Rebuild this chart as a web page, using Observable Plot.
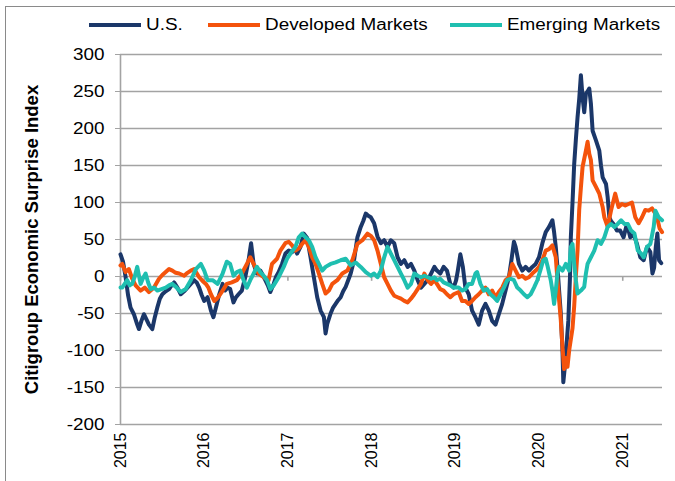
<!DOCTYPE html>
<html>
<head>
<meta charset="utf-8">
<script src="https://cdn.jsdelivr.net/npm/d3@7"></script>
<script src="https://cdn.jsdelivr.net/npm/@observablehq/plot@0.6"></script>
<style>
  body { margin: 0; background: #fff; font-family: "Liberation Sans", Arial, sans-serif; }
  #wrap { position: relative; width: 675px; height: 481px; overflow: hidden; background: #fff; }
  #frame { position: absolute; left: 5px; top: 6px; width: 720px; height: 520px; border: 1.5px solid #8a8a8a; }
  #legend { position: absolute; left: 0; top: 0; width: 675px; height: 40px; }
  .item { position: absolute; top: 14px; height: 22px; display: flex; align-items: center; font-size: 16px; color: #000; white-space: nowrap; }
  .sw { width: 52px; height: 4px; margin-right: 5px; }
  .lbl { display: inline-block; transform: scaleX(1.18); transform-origin: left center; }
  #chart { position: absolute; left: 0; top: 40px; }
</style>
</head>
<body>
<div id="wrap">
  <div id="frame"></div>
  <div id="legend"></div>
  <div id="chart"></div>
</div>
<script>
// ---- data (decimal year, index value) ----
const seriesNames = ["U.S.", "Developed Markets", "Emerging Markets"];
const seriesColors = ["#1b3769", "#f4530c", "#1fbfb0"];
const yTicks = [-200, -150, -100, -50, 0, 50, 100, 150, 200, 250, 300];
const yearTicks = [2015, 2016, 2017, 2018, 2019, 2020, 2021];
const yTitle = "Citigroup Economic Surprise Index";

const us = [
[2015.00,30],[2015.03,20],[2015.06,0],[2015.09,-25],[2015.12,-42],[2015.16,-51],[2015.20,-65],[2015.22,-71],
[2015.25,-60],[2015.28,-51],[2015.31,-58],[2015.34,-65],[2015.38,-71],[2015.41,-55],[2015.44,-42],[2015.47,-30],
[2015.50,-24],[2015.54,-20],[2015.58,-17],[2015.61,-12],[2015.64,-8],[2015.68,-15],[2015.72,-24],[2015.76,-20],
[2015.80,-15],[2015.84,-10],[2015.88,-5],[2015.91,-8],[2015.94,-15],[2015.97,-25],[2016.00,-33],[2016.04,-28],
[2016.08,-46],[2016.11,-55],[2016.14,-42],[2016.18,-24],[2016.22,-10],[2016.25,-19],[2016.28,-15],[2016.31,-17],
[2016.35,-35],[2016.38,-28],[2016.41,-24],[2016.45,-19],[2016.49,-1],[2016.53,22],[2016.56,45],[2016.59,17],
[2016.63,4],[2016.67,8],[2016.70,2],[2016.73,-5],[2016.76,-12],[2016.79,-21],[2016.83,-10],[2016.86,0],
[2016.89,6],[2016.93,17],[2016.97,31],[2017.01,35],[2017.05,33],[2017.08,38],[2017.11,31],[2017.15,40],
[2017.19,58],[2017.23,52],[2017.27,26],[2017.31,-1],[2017.35,-28],[2017.39,-46],[2017.43,-55],[2017.45,-77],
[2017.47,-64],[2017.51,-50],[2017.54,-42],[2017.57,-37],[2017.60,-32],[2017.63,-28],[2017.66,-20],[2017.69,-14],
[2017.72,-5],[2017.75,4],[2017.79,22],[2017.83,53],[2017.87,67],[2017.90,75],[2017.93,85],[2017.96,82],
[2017.99,80],[2018.03,72],[2018.07,54],[2018.11,45],[2018.15,49],[2018.19,40],[2018.23,49],[2018.27,45],
[2018.31,26],[2018.35,17],[2018.39,22],[2018.43,13],[2018.47,17],[2018.51,8],[2018.55,-5],[2018.59,-15],
[2018.63,-10],[2018.67,-5],[2018.71,4],[2018.75,13],[2018.78,8],[2018.82,4],[2018.86,13],[2018.90,8],
[2018.94,-10],[2018.98,-15],[2019.01,-5],[2019.03,8],[2019.06,30],[2019.09,13],[2019.12,-15],[2019.16,-24],
[2019.20,-46],[2019.24,-55],[2019.28,-65],[2019.32,-46],[2019.36,-37],[2019.40,-46],[2019.44,-60],[2019.48,-65],
[2019.52,-51],[2019.56,-37],[2019.60,-19],[2019.64,-1],[2019.67,22],[2019.70,47],[2019.72,40],[2019.76,17],
[2019.80,8],[2019.84,13],[2019.88,8],[2019.92,13],[2019.96,17],[2020.00,26],[2020.04,45],[2020.08,60],
[2020.12,67],[2020.16,76],[2020.18,60],[2020.20,40],[2020.22,13],[2020.24,-19],[2020.26,-50],[2020.28,-100],
[2020.29,-143],[2020.31,-120],[2020.33,-90],[2020.35,-60],[2020.37,0],[2020.38,53],[2020.40,100],[2020.42,152],
[2020.44,185],[2020.46,215],[2020.48,240],[2020.50,272],[2020.52,242],[2020.54,222],[2020.56,247],[2020.58,250],
[2020.60,254],[2020.62,233],[2020.64,197],[2020.68,184],[2020.72,170],[2020.74,150],[2020.76,134],[2020.80,125],
[2020.82,107],[2020.84,80],[2020.86,75],[2020.89,71],[2020.93,62],[2020.97,62],[2021.01,53],[2021.05,71],
[2021.09,53],[2021.13,57],[2021.17,44],[2021.21,26],[2021.25,22],[2021.29,40],[2021.33,33],[2021.355,4],
[2021.375,12],[2021.395,40],[2021.414,58],[2021.434,22],[2021.46,18]
];

const dm = [
[2015.00,15],[2015.02,17],[2015.06,6],[2015.10,10],[2015.14,-3],[2015.18,-12],[2015.24,-19],[2015.29,-15],
[2015.34,-21],[2015.40,-15],[2015.46,-3],[2015.50,2],[2015.54,6],[2015.58,10],[2015.62,8],[2015.66,5],
[2015.70,4],[2015.76,1],[2015.80,5],[2015.84,8],[2015.88,10],[2015.94,-1],[2015.98,-6],[2016.02,-10],
[2016.05,-15],[2016.08,-24],[2016.12,-33],[2016.15,-30],[2016.18,-26],[2016.22,-19],[2016.27,-10],[2016.33,-8],
[2016.39,-5],[2016.45,4],[2016.51,17],[2016.55,26],[2016.59,17],[2016.65,4],[2016.71,-1],[2016.77,-5],
[2016.81,17],[2016.87,24],[2016.91,35],[2016.97,45],[2017.01,47],[2017.05,42],[2017.09,35],[2017.13,38],
[2017.17,44],[2017.21,49],[2017.25,40],[2017.29,26],[2017.33,17],[2017.37,4],[2017.41,-10],[2017.45,-23],
[2017.49,-19],[2017.53,-10],[2017.59,-5],[2017.65,4],[2017.71,8],[2017.77,22],[2017.83,44],[2017.89,49],
[2017.95,58],[2017.99,55],[2018.03,49],[2018.07,35],[2018.11,17],[2018.15,-1],[2018.19,-10],[2018.23,-19],
[2018.27,-26],[2018.31,-28],[2018.35,-30],[2018.39,-33],[2018.43,-35],[2018.47,-30],[2018.51,-24],[2018.55,-17],
[2018.59,-10],[2018.63,4],[2018.67,-5],[2018.71,-10],[2018.75,-5],[2018.78,-10],[2018.82,-17],[2018.86,-19],
[2018.90,-24],[2018.94,-28],[2018.98,-24],[2019.04,-21],[2019.08,-33],[2019.12,-33],[2019.16,-37],[2019.20,-33],
[2019.24,-28],[2019.28,-24],[2019.32,-19],[2019.36,-15],[2019.40,-24],[2019.44,-19],[2019.48,-28],[2019.52,-21],
[2019.56,-15],[2019.60,-5],[2019.64,-1],[2019.68,17],[2019.72,8],[2019.76,-1],[2019.80,1],[2019.84,-3],
[2019.88,-1],[2019.92,4],[2019.96,8],[2020.00,13],[2020.04,22],[2020.08,35],[2020.12,37],[2020.16,42],
[2020.20,26],[2020.22,-5],[2020.24,-32],[2020.26,-59],[2020.28,-95],[2020.30,-125],[2020.32,-110],[2020.34,-122],
[2020.36,-100],[2020.40,-70],[2020.42,-40],[2020.44,0],[2020.46,35],[2020.48,90],[2020.50,120],[2020.52,148],
[2020.56,170],[2020.58,182],[2020.60,166],[2020.62,157],[2020.64,130],[2020.68,121],[2020.72,112],[2020.76,94],
[2020.78,80],[2020.82,67],[2020.86,89],[2020.91,112],[2020.95,94],[2020.99,98],[2021.03,96],[2021.07,98],
[2021.11,100],[2021.15,80],[2021.19,72],[2021.23,80],[2021.27,90],[2021.31,89],[2021.35,92],[2021.39,85],
[2021.42,75],[2021.44,65],[2021.47,60]
];

const em = [
[2015.00,-15],[2015.02,-15],[2015.05,-10],[2015.08,-5],[2015.11,-12],[2015.14,-10],[2015.17,0],[2015.20,13],
[2015.24,-10],[2015.27,-2],[2015.30,4],[2015.33,-8],[2015.36,-17],[2015.40,-15],[2015.44,-19],[2015.49,-17],
[2015.54,-15],[2015.58,-12],[2015.62,-10],[2015.67,-15],[2015.72,-21],[2015.78,-17],[2015.84,-5],[2015.90,10],
[2015.96,17],[2016.00,8],[2016.04,-5],[2016.10,-5],[2016.16,-10],[2016.22,4],[2016.27,20],[2016.31,17],
[2016.35,1],[2016.39,6],[2016.43,8],[2016.47,-5],[2016.51,-15],[2016.55,-5],[2016.59,4],[2016.63,13],
[2016.67,6],[2016.71,1],[2016.75,-5],[2016.79,-17],[2016.83,-12],[2016.89,-1],[2016.95,13],[2016.99,24],
[2017.03,31],[2017.09,40],[2017.13,53],[2017.17,58],[2017.21,53],[2017.25,49],[2017.29,40],[2017.33,26],
[2017.37,17],[2017.41,8],[2017.45,13],[2017.51,17],[2017.57,19],[2017.63,22],[2017.69,24],[2017.75,15],
[2017.81,19],[2017.87,13],[2017.93,6],[2017.99,1],[2018.03,4],[2018.07,-1],[2018.11,8],[2018.15,26],
[2018.19,40],[2018.23,31],[2018.27,22],[2018.31,13],[2018.35,4],[2018.39,-5],[2018.43,-15],[2018.47,-10],
[2018.51,4],[2018.55,1],[2018.59,-1],[2018.63,1],[2018.67,-1],[2018.71,-3],[2018.75,-1],[2018.78,-5],
[2018.82,-3],[2018.86,-8],[2018.90,-10],[2018.94,-12],[2018.98,-15],[2019.04,-15],[2019.08,-19],[2019.12,-17],
[2019.16,-10],[2019.20,-10],[2019.24,4],[2019.26,6],[2019.30,-10],[2019.34,-19],[2019.38,-17],[2019.42,-24],
[2019.46,-28],[2019.50,-33],[2019.54,-24],[2019.58,-15],[2019.62,-5],[2019.66,-3],[2019.70,-5],[2019.74,-15],
[2019.78,-19],[2019.82,-24],[2019.86,-28],[2019.90,-24],[2019.94,-15],[2019.98,-5],[2020.02,10],[2020.05,22],
[2020.08,24],[2020.10,15],[2020.14,-5],[2020.16,-19],[2020.18,-37],[2020.20,-19],[2020.22,4],[2020.24,13],
[2020.28,8],[2020.32,17],[2020.36,8],[2020.38,40],[2020.40,44],[2020.42,17],[2020.44,-5],[2020.46,-23],
[2020.50,-19],[2020.54,-14],[2020.56,4],[2020.58,17],[2020.62,26],[2020.66,35],[2020.70,49],[2020.74,44],
[2020.78,53],[2020.82,67],[2020.86,71],[2020.90,67],[2020.94,71],[2020.98,76],[2021.02,71],[2021.06,71],
[2021.10,62],[2021.14,58],[2021.18,35],[2021.22,31],[2021.25,26],[2021.29,40],[2021.33,44],[2021.37,67],
[2021.39,89],[2021.43,80],[2021.47,76]
];

const seriesData = [us, dm, em];
const xDomain = [2015, 2021.475];
const yDomain = [-200, 300];

// ---- legend ----
const legend = document.getElementById("legend");
const legendLeft = [89, 208, 450];
seriesNames.forEach((name, i) => {
  const it = document.createElement("div");
  it.className = "item";
  it.style.left = legendLeft[i] + "px";
  it.innerHTML = `<span class="sw" style="background:${seriesColors[i]}"></span><span class="lbl">${name}</span>`;
  legend.appendChild(it);
});

// ---- chart ----
const grid = "#a3a3a3";
const chart = Plot.plot({
  width: 675,
  height: 441,
  marginLeft: 120,
  marginRight: 13,
  marginTop: 14,
  marginBottom: 57,
  style: { fontFamily: "Liberation Sans, Arial, sans-serif", fontSize: "16px", color: "#000", background: "transparent", overflow: "visible" },
  x: { domain: xDomain, ticks: yearTicks, tickFormat: d => String(d), tickSize: 0, tickRotate: -90, tickPadding: 8, label: null },
  y: { domain: yDomain, ticks: yTicks, tickFormat: d => String(d), tickSize: 5, tickPadding: 11, label: null },
  marks: [
    Plot.ruleY(yTicks, { stroke: grid, strokeWidth: 1.6 }),
    Plot.ruleX([xDomain[0]], { stroke: grid, strokeWidth: 1.6 }),
    Plot.ruleX(yearTicks, { x: d => d, y1: 0, y2: -6.5, stroke: grid, strokeWidth: 1.6 }),
    ...seriesData.map((s, i) => Plot.line(s, { x: d => d[0], y: d => d[1], stroke: seriesColors[i], strokeWidth: 4, strokeLinejoin: "round", strokeLinecap: "round" })),
    Plot.text([yTitle], { frameAnchor: "left", textAnchor: "middle", rotate: -90, dx: -88, fontWeight: "bold", fontSize: 18.5, fill: "#000" })
  ]
});
document.getElementById("chart").appendChild(chart);

// style axis ticks gray, stretch horizontal y tick labels slightly
chart.querySelectorAll('g[aria-label="y-axis tick"] path, g[aria-label="y-axis"] .tick line').forEach(p => p.setAttribute("stroke", grid));
chart.querySelectorAll('g[aria-label="y-axis"] .domain, g[aria-label="x-axis"] .domain').forEach(p => p.remove());
const yLabels = chart.querySelectorAll('g[aria-label="y-axis tick label"] text, g[aria-label="y-axis"] .tick text');
yLabels.forEach(t => {
  const L = t.getComputedTextLength();
  t.setAttribute("textLength", (L * 1.18).toFixed(2));
  t.setAttribute("lengthAdjust", "spacingAndGlyphs");
});
</script>
</body>
</html>
